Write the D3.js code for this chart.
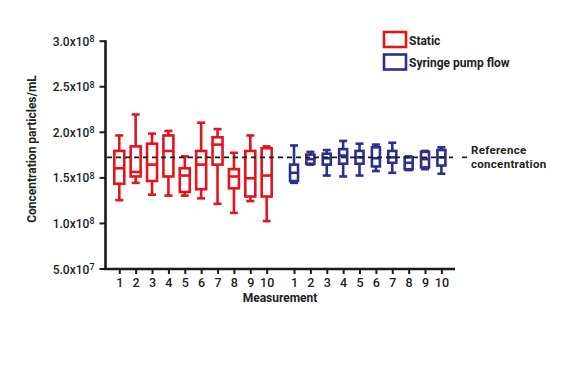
<!DOCTYPE html>
<html><head><meta charset="utf-8">
<script src="https://cdn.jsdelivr.net/npm/d3@7"></script>
<style>body{margin:0;background:#fff;} svg{display:block;} text{font-family:Roboto,"DejaVu Sans",sans-serif;}</style>
</head><body><svg id="c" width="561" height="378"></svg>
<script>
const measurements = ["1","2","3","4","5","6","7","8","9","10"];
const seriesNames = ["Static","Syringe pump flow"];
const seriesColors = ["#e3141c","#2d2f8e"];
const yTickValues = [5.0e7,1.0e8,1.5e8,2.0e8,2.5e8,3.0e8];
const yTickMantissa = ["5.0","1.0","1.5","2.0","2.5","3.0"];
const yTickExponent = ["7","8","8","8","8","8"];
const referenceConcentration = 1.72e8;

const staticMax    = [1.96e8,2.19e8,1.98e8,2.01e8,1.73e8,2.10e8,2.03e8,1.77e8,1.96e8,1.84e8];
const staticQ3     = [1.79e8,1.84e8,1.87e8,1.96e8,1.60e8,1.79e8,1.94e8,1.59e8,1.79e8,1.82e8];
const staticMedian = [1.60e8,1.56e8,1.64e8,1.79e8,1.52e8,1.64e8,1.86e8,1.51e8,1.49e8,1.52e8];
const staticQ1     = [1.43e8,1.51e8,1.46e8,1.51e8,1.34e8,1.37e8,1.64e8,1.38e8,1.29e8,1.29e8];
const staticMin    = [1.25e8,1.44e8,1.31e8,1.30e8,1.30e8,1.27e8,1.21e8,1.11e8,1.24e8,1.02e8];

const flowMax    = [1.85e8,1.78e8,1.80e8,1.90e8,1.87e8,1.86e8,1.88e8,1.73e8,1.79e8,1.83e8];
const flowQ3     = [1.64e8,1.75e8,1.76e8,1.81e8,1.79e8,1.83e8,1.79e8,1.72e8,1.78e8,1.80e8];
const flowMedian = [1.55e8,1.70e8,1.71e8,1.74e8,1.72e8,1.71e8,1.72e8,1.66e8,1.70e8,1.72e8];
const flowQ1     = [1.46e8,1.65e8,1.64e8,1.65e8,1.65e8,1.62e8,1.66e8,1.59e8,1.61e8,1.63e8];
const flowMin    = [1.44e8,1.64e8,1.52e8,1.51e8,1.52e8,1.57e8,1.55e8,1.58e8,1.59e8,1.54e8];

const groups = [
  {name: seriesNames[0], color: seriesColors[0], offset: 0, max: staticMax, q3: staticQ3, med: staticMedian, q1: staticQ1, min: staticMin, bw: 10},
  {name: seriesNames[1], color: seriesColors[1], offset: 10.67, max: flowMax, q3: flowQ3, med: flowMedian, q1: flowQ1, min: flowMin, bw: 8}
];

const svg = d3.select("#c");
const x = d3.scaleLinear().domain([0.25, 21.5]).range([107, 455]);
const y = d3.scaleLinear().domain([5.0e7, 3.0e8]).range([268.5, 40.7]);
const ink = "#1a1a1a";

// boxes
groups.forEach(g => {
  const gg = svg.append("g").attr("stroke", g.color).attr("fill", "none").attr("stroke-width", 2.6);
  measurements.forEach((m, i) => {
    const cx = x(i + 1 + g.offset);
    const hw = g.bw / 2, cw = 4;
    gg.append("line").attr("x1", cx).attr("x2", cx).attr("y1", y(g.max[i])).attr("y2", y(g.q3[i]));
    gg.append("line").attr("x1", cx).attr("x2", cx).attr("y1", y(g.q1[i])).attr("y2", y(g.min[i]));
    gg.append("line").attr("x1", cx - cw).attr("x2", cx + cw).attr("y1", y(g.max[i])).attr("y2", y(g.max[i]));
    gg.append("line").attr("x1", cx - cw).attr("x2", cx + cw).attr("y1", y(g.min[i])).attr("y2", y(g.min[i]));
    gg.append("rect").attr("x", cx - hw).attr("width", g.bw)
      .attr("y", y(g.q3[i])).attr("height", y(g.q1[i]) - y(g.q3[i])).attr("fill", "#fff");
    gg.append("line").attr("x1", cx - hw).attr("x2", cx + hw).attr("y1", y(g.med[i])).attr("y2", y(g.med[i]));
  });
});

// reference line
svg.append("line").attr("x1", x(0.25)).attr("x2", 453)
  .attr("y1", y(referenceConcentration)).attr("y2", y(referenceConcentration))
  .attr("stroke", ink).attr("stroke-width", 1.6).attr("stroke-dasharray", "5,4");
svg.append("line").attr("x1", 462).attr("x2", 467)
  .attr("y1", y(referenceConcentration)).attr("y2", y(referenceConcentration))
  .attr("stroke", ink).attr("stroke-width", 1.6);
svg.append("text").attr("x", 471).attr("y", 154).attr("font-size", 11.5).attr("font-weight", 700)
  .attr("letter-spacing", 0.3).attr("fill", "#222").text("Reference");
svg.append("text").attr("x", 471).attr("y", 167.5).attr("font-size", 11.5).attr("font-weight", 700)
  .attr("letter-spacing", 0.3).attr("fill", "#222").text("concentration");

// y axis
const yAxis = svg.append("g").attr("transform", "translate(105.5,0)")
  .call(d3.axisLeft(y).tickValues(yTickValues).tickSize(6).tickFormat(""));
yAxis.select(".domain").attr("stroke", ink).attr("stroke-width", 2.6).attr("d", `M0,${y(3.0e8)-0.5}V${y(5.0e7)+1.3}`);
yAxis.selectAll(".tick line").attr("stroke", ink).attr("stroke-width", 2);
yAxis.selectAll(".tick").each(function(d, i) {
  const t = d3.select(this).append("text").attr("x", -11).attr("dy", "0.38em")
    .attr("text-anchor", "end").attr("fill", "#222").attr("font-size", 12).attr("font-weight", 500);
  t.append("tspan").text(yTickMantissa[i] + "x10");
  t.append("tspan").attr("dy", "-0.4em").attr("font-size", 9).text(yTickExponent[i]);
});

// x axis
const ticksX = [];
groups.forEach(g => measurements.forEach((m, i) => ticksX.push({pos: i + 1 + g.offset, label: m})));
const xAxis = svg.append("g").attr("transform", "translate(0,269)")
  .call(d3.axisBottom(x).tickValues(ticksX.map(t => t.pos)).tickSize(5)
    .tickFormat((d, i) => ticksX[i].label));
xAxis.select(".domain").attr("stroke", ink).attr("stroke-width", 2.6).attr("d", `M${x(0.25)-3},0H${x(21.5)}`);
xAxis.selectAll(".tick line").attr("stroke", ink).attr("stroke-width", 2);
xAxis.selectAll(".tick text").attr("fill", "#222").attr("font-size", 12.5).attr("font-weight", 500)
  .attr("font-family", "Roboto,'DejaVu Sans',sans-serif").attr("y", 9);

// axis titles
svg.append("text").attr("x", 280).attr("y", 302).attr("text-anchor", "middle")
  .attr("font-size", 12).attr("font-weight", 700).attr("fill", "#222").text("Measurement");
svg.append("text").attr("transform", "translate(36,149) rotate(-90)").attr("text-anchor", "middle")
  .attr("font-size", 12).attr("font-weight", 700).attr("fill", "#222").text("Concentration particles/mL");

// legend
groups.forEach((g, i) => {
  const ly = 32 + i * 22.5;
  svg.append("rect").attr("x", 384).attr("y", ly).attr("width", 22).attr("height", 15)
    .attr("fill", "#fff").attr("stroke", g.color).attr("stroke-width", 2.6);
  svg.append("text").attr("x", 409).attr("y", ly + 12.5).attr("font-size", 12).attr("font-weight", 700)
    .attr("fill", "#222").text(g.name);
});
</script></body></html>
